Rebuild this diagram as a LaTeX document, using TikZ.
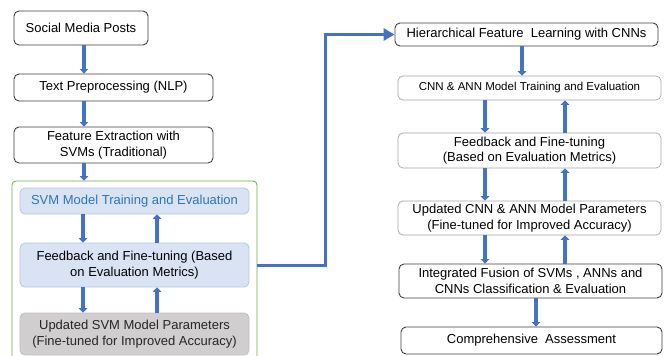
\documentclass[tikz,border=0pt]{standalone}
\usepackage{fontspec}
\setmainfont{Liberation Sans}
\usetikzlibrary{arrows.meta,calc}
\definecolor{arrblue}{HTML}{4472C4}
\definecolor{lblue}{HTML}{DAE3F3}
\definecolor{lblueb}{HTML}{B4C7E7}
\definecolor{tblue}{HTML}{2E75B6}
\definecolor{gfill}{HTML}{D0CECE}
\definecolor{gbord}{HTML}{BFBFBF}
\definecolor{greenb}{HTML}{70AD47}
\definecolor{dark}{HTML}{404040}
\definecolor{lgray}{HTML}{A6A6A6}
\tikzset{
  box/.style={draw=dark, line width=0.9pt, rounded corners=5pt, fill=white, align=center,
    inner sep=0pt, font=\fontsize{13}{15.5}\selectfont},
  lbox/.style={box, draw=lgray, line width=0.7pt},
  bluebox/.style={box, draw=lblueb, line width=0.8pt, fill=lblue},
  graybox/.style={box, draw=gbord, line width=0.8pt, fill=gfill, text=black!85},
  arr/.style={draw=arrblue, line width=4pt, -{Triangle[width=8.5pt,length=4.5pt]}},
  bigarr/.style={draw=arrblue, line width=3pt, -{Triangle[width=12pt,length=11pt]}},
}
\begin{document}
\begin{tikzpicture}[x=1pt,y=-1pt]
\clip (0,0) rectangle (665,356);
\fill[white] (0,0) rectangle (665,356);
% left column
\node[box, minimum width=134pt, minimum height=34pt] (social) at (81,28) {Social Media Posts};
\node[box, minimum width=199pt, minimum height=27pt] (textpre) at (113.5,87.5) {Text Preprocessing (NLP)};
\node[box, minimum width=199pt, minimum height=36pt] (feat) at (113.5,145) {Feature Extraction with\\SVMs (Traditional)};
\node[draw=greenb, line width=0.8pt, rounded corners=4pt, minimum width=245pt, minimum height=190pt, inner sep=0pt] (cont) at (134.5,276) {};
\node[bluebox, text=tblue, minimum width=229pt, minimum height=26pt] (svmtrain) at (134.5,201) {SVM Model Training and Evaluation};
\node[bluebox, minimum width=229pt, minimum height=44pt] (feedl) at (134.5,265) {Feedback and Fine-tuning (Based\\on Evaluation Metrics)};
\node[graybox, minimum width=229pt, minimum height=42pt] (updsvm) at (134.5,334) {Updated SVM Model Parameters\\(Fine-tuned for Improved Accuracy)};
% right column
\node[box, minimum width=263pt, minimum height=23pt] (hier) at (526.5,34.5) {Hierarchical Feature\ \ Learning with CNNs};
\node[lbox, minimum width=263pt, minimum height=24pt, font=\fontsize{11.5}{14}\selectfont] (cnntrain) at (529.5,88) {CNN \& ANN Model Training and Evaluation};
\node[lbox, minimum width=263pt, minimum height=35pt] (feedr) at (529.5,150.5) {Feedback and Fine-tuning\\(Based on Evaluation Metrics)};
\node[lbox, minimum width=263pt, minimum height=34pt] (updcnn) at (529.5,218) {Updated CNN \& ANN Model Parameters\\(Fine-tuned for Improved Accuracy)};
\node[box, minimum width=263pt, minimum height=34pt] (fusion) at (530.5,281) {Integrated Fusion of SVMs , ANNs and\\CNNs Classification \& Evaluation};
\node[box, minimum width=261pt, minimum height=27pt] (comp) at (531.5,340.5) {Comprehensive\ \ Assessment};
% left arrows
\draw[arr] ([xshift=3pt]social.south) -- ([xshift=3pt]social.south |- textpre.north);
\draw[arr] ([xshift=-29.5pt]textpre.south) -- ([xshift=-29.5pt]feat.north);
\draw[arr] ([xshift=-29.5pt]feat.south) -- ([xshift=-29.5pt]feat.south |- cont.north);
\draw[arr] ([xshift=-51.5pt]svmtrain.south) -- ([xshift=-51.5pt]feedl.north);
\draw[arr] ([xshift=22.5pt]feedl.north) -- ([xshift=22.5pt]svmtrain.south);
\draw[arr] ([xshift=-51.5pt]feedl.south) -- ([xshift=-51.5pt]updsvm.north);
\draw[arr] ([xshift=22.5pt]updsvm.north) -- ([xshift=22.5pt]feedl.south);
% main connector
\draw[bigarr] (cont.east |- feedl.east) -- ++(68,0) |- (hier.west);
% right arrows
\draw[arr] ([xshift=-4.5pt]hier.south) -- ([xshift=-4.5pt]hier.south |- cnntrain.north);
\draw[arr] ([xshift=-44.5pt]cnntrain.south) -- ([xshift=-44.5pt]feedr.north);
\draw[arr] ([xshift=35.5pt]feedr.north) -- ([xshift=35.5pt]cnntrain.south);
\draw[arr] ([xshift=-44.5pt]feedr.south) -- ([xshift=-44.5pt]updcnn.north);
\draw[arr] ([xshift=35.5pt]updcnn.north) -- ([xshift=35.5pt]feedr.south);
\draw[arr] ([xshift=-44.5pt]updcnn.south) -- ([xshift=-44.5pt]updcnn.south |- fusion.north);
\draw[arr] ([xshift=35.5pt]updcnn.south |- fusion.north) -- ([xshift=35.5pt]updcnn.south);
\draw[arr] ([xshift=5.5pt]fusion.south) -- ([xshift=5.5pt]fusion.south |- comp.north);
\end{tikzpicture}
\end{document}
